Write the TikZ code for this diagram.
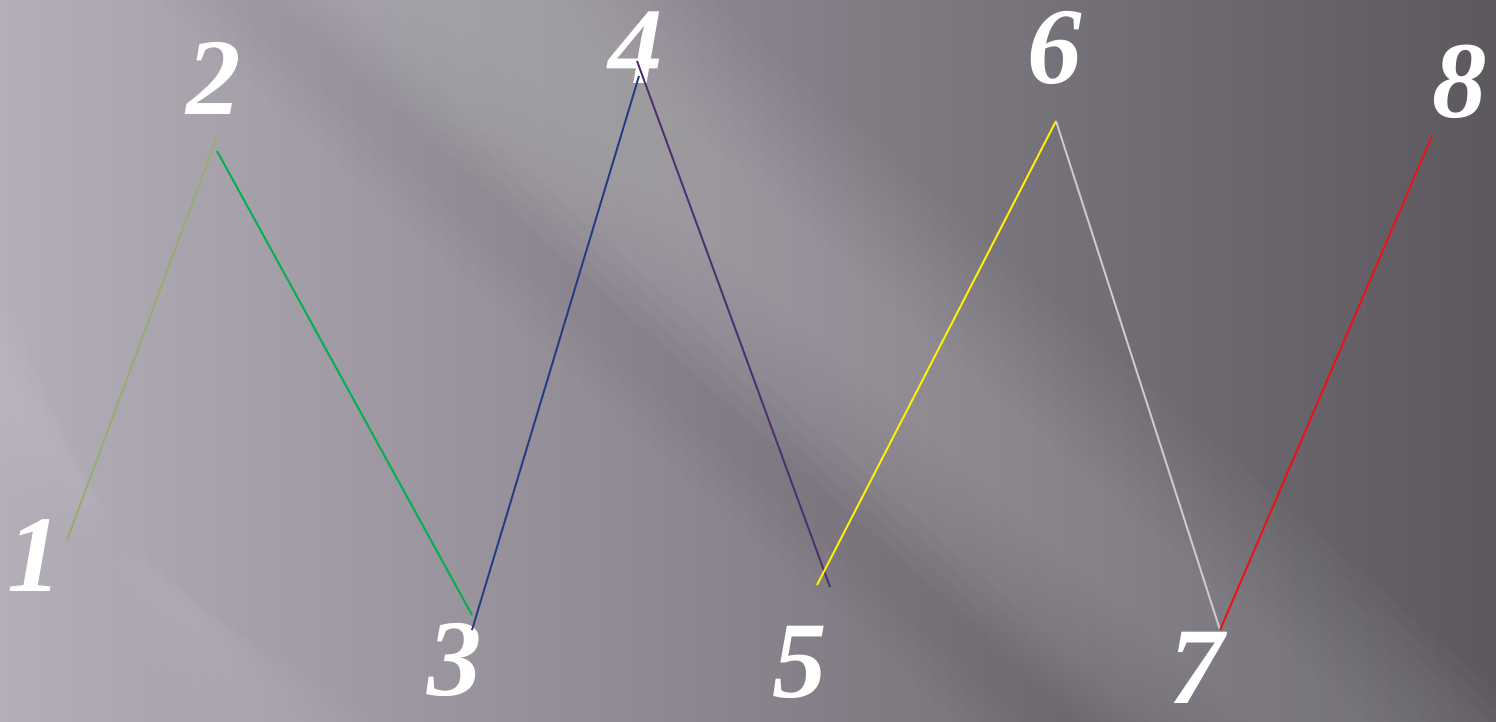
\documentclass[tikz,border=0pt]{standalone}
\usepackage{fontspec}
\setmainfont{Liberation Serif}
\tikzset{
  num/.style={text=white, font=\fontsize{62}{62}\selectfont\bfseries\itshape, inner sep=0pt},
  seg/.style={line width=1.1pt},
  streak/.style={fill=white, draw=none},
}
\definecolor{bgleft}{RGB}{180,174,185}
\definecolor{bgright}{RGB}{92,88,94}
\definecolor{olivelink}{RGB}{150,172,112}
\definecolor{greenlink}{RGB}{0,176,80}
\definecolor{navylink}{RGB}{36,60,132}
\definecolor{purplelink}{RGB}{78,48,112}
\definecolor{greylink}{RGB}{205,203,206}
\definecolor{redlink}{RGB}{232,20,20}
\begin{document}
\begin{tikzpicture}[x=0.02cm, y=-0.02cm]
    % background
    \shade[left color=bgleft, right color=bgright] (0,0) rectangle (1496,722);
    \useasboundingbox (0,0) rectangle (1496,722);
    \foreach \w in {10,30,...,170}
      \fill[streak, opacity=0.018] (440-\w,0) -- (540+\w,0) -- (1360+\w,722) -- (1260-\w,722) -- cycle;
    \foreach \w in {10,30,...,90}
      \fill[streak, opacity=0.015] (0,360-\w) -- (0,400+\w) -- (300+\w,722) -- (260-\w,722) -- cycle;
    \foreach \w in {10,30,...,70}
      \fill[black, opacity=0.012] (230-\w,0) -- (270+\w,0) -- (1070+\w,722) -- (1030-\w,722) -- cycle;
    % labels
    \node[num] (n1) at (35,556) {1};
    \node[num] (n2) at (214,78) {2};
    \node[num] (n3) at (455,660) {3};
    \node[num] (n4) at (636,48) {4};
    \node[num] (n5) at (800,662) {5};
    \node[num] (n6) at (1055,48) {6};
    \node[num] (n7) at (1197,668) {7};
    \node[num] (n8) at (1460,82) {8};
    % vertices
    \coordinate (a1) at (67,540);
    \coordinate (a2) at (217,137);
    \coordinate (b2) at (217,151);
    \coordinate (a3) at (472,615);
    \coordinate (b3) at (472,630);
    \coordinate (a4) at (639,76);
    \coordinate (b4) at (637,61);
    \coordinate (a5) at (830,587);
    \coordinate (b5) at (817,585);
    \coordinate (a6) at (1056,121);
    \coordinate (a7) at (1220,630);
    \coordinate (a8) at (1432,136);
    % zigzag
    \draw[seg, olivelink] (a1) -- (a2);
    \draw[seg, greenlink] (b2) -- (a3);
    \draw[seg, navylink] (b3) -- (a4);
    \draw[seg, purplelink] (b4) -- (a5);
    \draw[seg, yellow] (b5) -- (a6);
    \draw[seg, greylink] (a6) -- (a7);
    \draw[seg, redlink] (a7) -- (a8);
\end{tikzpicture}
\end{document}
